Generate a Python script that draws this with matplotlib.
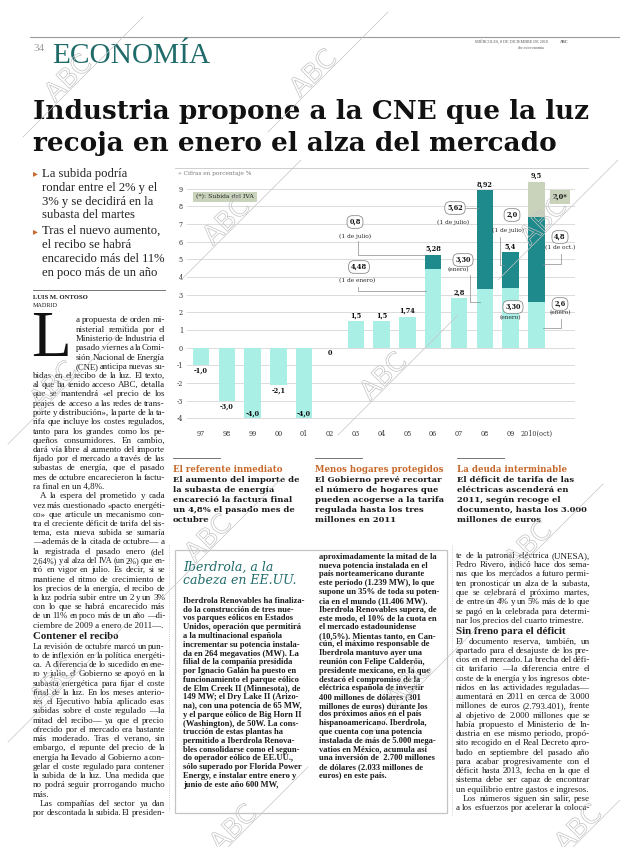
import matplotlib
matplotlib.use("Agg")
import matplotlib.pyplot as plt
import matplotlib.patheffects as pe
from matplotlib.font_manager import FontProperties
from matplotlib.patches import Rectangle

# ---- chart data -----------------------------------------------------------
years = ["97", "98", "99", "00", "01", "02", "03", "04", "05", "06", "07",
         "08", "09", "2010(oct)"]
base_rise = [-1.0, -3.0, -4.0, -2.1, -4.0, 0.0, 1.5, 1.5, 1.74, 4.48, 2.8,
             3.30, 3.4, 2.6]          # first (light) rise of each year
second_rise = [0, 0, 0, 0, 0, 0, 0, 0, 0, 0.8, 0, 5.62, 2.0, 4.8]
iva_rise = [0] * 13 + [2.0]
total_labels = ["-1,0", "-3,0", "-4,0", "-2,1", "-4,0", "0", "1,5", "1,5",
                "1,74", "5,28", "2,8", "8,92", "5,4", "9,5"]
y_ticks = list(range(-4, 10))

# ---- page text --------------------------------------------------------------
headline = ["Industria propone a la CNE que la luz",
            "recoja en enero el alza del mercado"]
bullets = [["La subida podría", "rondar entre el 2% y el",
            "3% y se decidirá en la", "subasta del martes"],
           ["Tras el nuevo aumento,", "el recibo se habrá",
            "encarecido más del 11%", "en poco más de un año"]]

col1_drop = ["a propuesta de orden mi-", "nisterial remitida por el",
             "Ministerio de Industria el", "pasado viernes a la Comi-",
             "sión Nacional de Energía", "(CNE) anticipa nuevas su-"]
col1_p1 = ["bidas en el recibo de la luz. El texto,",
           "al que ha tenido acceso ABC, detalla",
           "que se mantendrá «el precio de los",
           "peajes de acceso a las redes de trans-",
           "porte y distribución», la parte de la ta-",
           "rifa que incluye los costes regulados,",
           "tanto para los grandes como los pe-",
           "queños consumidores. En cambio,",
           "dará vía libre al aumento del importe",
           "fijado por el mercado a través de las",
           "subastas de energía, que el pasado",
           "mes de octubre encarecieron la factu-",
           "ra final en un 4,8%."]
col1_p2 = ["A la espera del prometido y cada",
           "vez más cuestionado «pacto energéti-",
           "co» que articule un mecanismo con-",
           "tra el creciente déficit de tarifa del sis-",
           "tema, esta nueva subida se sumaría",
           "—además de la citada de octubre— a",
           "la registrada el pasado enero (del",
           "2,64%) y al alza del IVA (un 2%) que en-",
           "tró en vigor en julio. Es decir, si se",
           "mantiene el ritmo de crecimiento de",
           "los precios de la energía, el recibo de",
           "la luz podría subir entre un 2 y un 3%",
           "con lo que se habrá encarecido más",
           "de un 11% en poco más de un año —di-",
           "ciembre de 2009 a enero de 2011—."]
col1_p3 = ["La revisión de octubre marcó un pun-",
           "to de inflexión en la política energéti-",
           "ca. A diferencia de lo sucedido en ene-",
           "ro y julio, el Gobierno se apoyó en la",
           "subasta energética para fijar el coste",
           "final de la luz. En los meses anterio-",
           "res el Ejecutivo había aplicado esas",
           "subidas sobre el coste regulado —la",
           "mitad del recibo— ya que el precio",
           "ofrecido por el mercado era bastante",
           "más moderado. Tras el verano, sin",
           "embargo, el repunte del precio de la",
           "energía ha llevado al Gobierno a con-",
           "gelar el coste regulado para contener",
           "la subida de la luz. Una medida que",
           "no podrá seguir prorrogando mucho",
           "más."]
col1_p4 = ["Las compañías del sector ya dan",
           "por descontada la subida. El presiden-"]

col4_p1 = ["te de la patronal eléctrica (UNESA),",
           "Pedro Rivero, indicó hace dos sema-",
           "nas que los mercados a futuro permi-",
           "ten pronosticar un alza de la subasta,",
           "que se celebrará el próximo martes,",
           "de entre un 4% y un 5% más de lo que",
           "se pagó en la celebrada para determi-",
           "nar los precios del cuarto trimestre."]
col4_p2 = ["El documento reserva, también, un",
           "apartado para el desajuste de los pre-",
           "cios en el mercado. La brecha del défi-",
           "cit tarifario —la diferencia entre el",
           "coste de la energía y los ingresos obte-",
           "nidos en las actividades reguladas—",
           "aumentará en 2011 en cerca de 3.000",
           "millones de euros (2.793.401), frente",
           "al objetivo de 2.000 millones que se",
           "había propuesto el Ministerio de In-",
           "dustria en ese mismo periodo, propó-",
           "sito recogido en el Real Decreto apro-",
           "bado en septiembre del pasado año",
           "para acabar progresivamente con el",
           "déficit hasta 2013, fecha en la que el",
           "sistema debe ser capaz de encontrar",
           "un equilibrio entre gastos e ingresos."]
col4_p3 = ["Los números siguen sin salir, pese",
           "a los esfuerzos por acelerar la coloca-"]

box_left = ["Iberdrola Renovables ha finaliza-",
            "do la construcción de tres nue-",
            "vos parques eólicos en Estados",
            "Unidos, operación que permitirá",
            "a la multinacional española",
            "incrementar su potencia instala-",
            "da en 264 megavatios (MW). La",
            "filial de la compañía presidida",
            "por Ignacio Galán ha puesto en",
            "funcionamiento el parque eólico",
            "de Elm Creek II (Minnesota), de",
            "149 MW; el Dry Lake II (Arizo-",
            "na), con una potencia de 65 MW,",
            "y el parque eólico de Big Horn II",
            "(Washington), de 50W. La cons-",
            "trucción de estas plantas ha",
            "permitido a Iberdrola Renova-",
            "bles consolidarse como el segun-",
            "do operador eólico de EE.UU.,",
            "sólo superado por Florida Power",
            "Energy, e instalar entre enero y",
            "junio de este año 600 MW,"]
box_right = ["aproximadamente la mitad de la",
             "nueva potencia instalada en el",
             "país norteamericano durante",
             "este periodo (1.239 MW), lo que",
             "supone un 35% de toda su poten-",
             "cia en el mundo (11.406 MW).",
             "Iberdrola Renovables supera, de",
             "este modo, el 10% de la cuota en",
             "el mercado estadounidense",
             "(10,5%). Mientas tanto, en Can-",
             "cún, el máximo responsable de",
             "Iberdrola mantuvo ayer una",
             "reunión con Felipe Calderón,",
             "presidente mexicano, en la que",
             "destacó el compromiso de la",
             "eléctrica española de invertir",
             "400 millones de dólares (301",
             "millones de euros) durante los",
             "dos próximos años en el país",
             "hispanoamericano. Iberdrola,",
             "que cuenta con una potencia",
             "instalada de más de 5.000 mega-",
             "vatios en México, acumula así",
             "una inversión de  2.700 millones",
             "de dólares (2.033 millones de",
             "euros) en este país."]

briefs = [("El referente inmediato",
           ["El aumento del importe de", "la subasta de energía",
            "encareció la factura final", "un 4,8% el pasado mes de",
            "octubre"]),
          ("Menos hogares protegidos",
           ["El Gobierno prevé recortar", "el número de hogares que",
            "pueden acogerse a la tarifa", "regulada hasta los tres",
            "millones en 2011"]),
          ("La deuda interminable",
           ["El déficit de tarifa de las", "eléctricas ascenderá en",
            "2011, según recoge el", "documento, hasta los 3.000",
            "millones de euros"])]

# ---- styles ---------------------------------------------------------------
W, H = 620, 847
SERIF = "Liberation Serif"
SLAB = "DejaVu Serif"
TEAL = "#1f6b6a"
ORANGE = "#c8692c"
INK = "#1c1c1c"
LIGHT = "#a9efe6"
DARK = "#1f8a8b"
IVA = "#c9d2ba"

fig = plt.figure(figsize=(6.2, 8.47), dpi=100)
page = fig.add_axes([0, 0, 1, 1])
page.set_xlim(0, W)
page.set_ylim(H, 0)
page.axis("off")
R = fig.canvas.get_renderer()


def font(family, size, weight="normal", style="normal"):
    return FontProperties(family=family, size=size, weight=weight, style=style)


def text_w(s, prop):
    return R.get_text_width_height_descent(s, prop, ismath=False)[0]


def fitted(s, prop, target):
    p = prop.copy()
    p.set_size(prop.get_size() * target / text_w(s, prop))
    return p


def put_line(x, y, w, s, prop, justify=True, color=INK):
    words = s.split()
    if not justify or len(words) < 2:
        p = prop if text_w(s, prop) <= w else fitted(s, prop, w)
        page.text(x, y, s, fontproperties=p, color=color, va="baseline")
        return
    p = prop
    widths = [text_w(t, p) for t in words]
    gap = (w - sum(widths)) / (len(words) - 1)
    if gap < 1.4:
        p = prop.copy()
        p.set_size(prop.get_size() * (w - 1.4 * (len(words) - 1)) / sum(widths))
        widths = [text_w(t, p) for t in words]
        gap = (w - sum(widths)) / (len(words) - 1)
    cx = x
    for t, tw in zip(words, widths):
        page.text(cx, y, t, fontproperties=p, color=color, va="baseline")
        cx += tw + gap


def column(blocks, x, y, w, step, prop, head):
    for kind, lines, indent, ends in blocks:
        if kind == "h":
            y += step * 0.25
            page.text(x, y, lines, fontproperties=head, color=INK, va="baseline")
            y += step * 1.0
            continue
        for i, s in enumerate(lines):
            ind = indent if i == 0 else 0
            last = ends and i == len(lines) - 1
            put_line(x + ind, y, w - ind, s, prop, justify=not last)
            y += step
    return y


# ---- masthead & headline ------------------------------------------------------
page.plot([30, 620], [37, 37], color="#9a9a9a", lw=0.8)
page.text(33, 51, "34", fontproperties=font(SERIF, 8), color="#9a9a9a", va="baseline")
page.text(52, 63, "ECONOMÍA", fontproperties=fitted("ECONOMÍA", font(SERIF, 20), 158),
          color=TEAL, va="baseline")
page.text(548, 43, "MIÉRCOLES, 8 DE DICIEMBRE DE 2010", fontproperties=font(SERIF, 3),
          color="#555", va="baseline", ha="right")
page.text(560, 43, "ABC", fontproperties=font(SERIF, 3, "bold"), color="#555", va="baseline")
page.text(545, 49, "abc.es/economia", fontproperties=font(SERIF, 3), color="#555",
          va="baseline", ha="right")

hprop = fitted(headline[0], font(SLAB, 18, "bold"), 557)
page.text(33, 119, headline[0], fontproperties=hprop, color="#111", va="baseline")
page.text(33, 151, headline[1], fontproperties=hprop, color="#111", va="baseline")

# ---- column 1 ---------------------------------------------------------------
bprop = font(SERIF, 9.1)
by = 177
for group in bullets:
    page.text(33, by - 0.5, "▸", fontproperties=font("DejaVu Sans", 7), color=ORANGE,
              va="baseline")
    for s in group:
        page.text(42, by, s, fontproperties=bprop, color="#222", va="baseline")
        by += 13.8
    by += 2.0

page.plot([33, 165], [290, 290], color="#777", lw=0.7)
page.text(33, 299, "LUIS M. ONTOSO", fontproperties=font(SERIF, 4.8, "bold"), color=INK,
          va="baseline")
page.text(33, 307, "MADRID", fontproperties=font(SERIF, 4.4), color=INK, va="baseline")
# drop cap, kept clear of the first full-width line
page.text(31, 356, "L", fontproperties=font(SERIF, 47), color="#111", va="baseline")

body = font(SERIF, 6.5)
bhead = font(SERIF, 7.8, "bold")
STEP = 9.25
y = 322.5
for s in col1_drop:
    put_line(76, y, 89, s, body)
    y += STEP
column([("p", col1_p1, 0, True), ("p", col1_p2, 7, True), ("h", "Contener el recibo", 0, 0),
        ("p", col1_p3, 0, True), ("p", col1_p4, 7, False)], 33, y, 132, STEP, body, bhead)

column([("p", col4_p1, 0, True), ("h", "Sin freno para el déficit", 0, 0),
        ("p", col4_p2, 0, True), ("p", col4_p3, 7, False)], 456, 558, 134, STEP, body, bhead)

# ---- briefs under the chart -------------------------------------------------------
for (title, lines), bx in zip(briefs, [173, 315, 457]):
    page.plot([bx, bx + 47], [458, 458], color="#777", lw=0.7)
    page.text(bx, 472, title, fontproperties=font(SLAB, 6.2, "bold"), color=ORANGE,
              va="baseline")
    for i, s in enumerate(lines):
        page.text(bx, 481.5 + i * 10.1, s, fontproperties=font(SLAB, 6.0, "bold"),
                  color=INK, va="baseline")

# ---- Iberdrola box ---------------------------------------------------------------
page.add_patch(Rectangle((175, 550), 272, 263, facecolor="white", edgecolor="#c4c4c4", lw=0.9))
page.plot([169, 169], [545, 812], color="#bbb", lw=0.6, ls=":")
page.plot([452, 452], [545, 815], color="#bbb", lw=0.6, ls=":")
tprop = font(SLAB, 9.0, style="italic")
page.text(183, 571, "Iberdrola, a la", fontproperties=tprop, color=TEAL, va="baseline")
page.text(183, 584, "cabeza en EE.UU.", fontproperties=tprop, color=TEAL, va="baseline")
boxprop = font(SERIF, 6.1, "bold")
for i, s in enumerate(box_left):
    put_line(183, 603 + i * 8.75, 124, s, boxprop, justify=False)
for i, s in enumerate(box_right):
    put_line(319, 559 + i * 8.75, 124, s, boxprop, justify=False)

# ---- chart -------------------------------------------------------------------
X0, XU = 201.0, 25.8     # px of first bar centre, px per category
Y0, YU = 347.7, 17.65    # px of zero line, px per unit
GL, GR = 187, 575
ylo, yhi = -4.45, 9.75


def dx(px):
    return (px - X0) / XU


def dy(py):
    return (Y0 - py) / YU


top_px, bot_px = Y0 - yhi * YU, Y0 - ylo * YU
ax = fig.add_axes([GL / W, 1 - bot_px / H, (GR - GL) / W, (bot_px - top_px) / H])
ax.patch.set_alpha(0)
ax.set_xlim(dx(GL), dx(GR))
ax.set_ylim(ylo, yhi)
for sp in ax.spines.values():
    sp.set_visible(False)
ax.set_yticks(y_ticks)
ax.set_yticklabels([str(v) for v in y_ticks])
ax.grid(axis="y", color="#d6d6d6", lw=0.6)
ax.set_axisbelow(True)
xs = list(range(len(years)))
ax.set_xticks(xs)
ax.set_xticklabels(years)
ax.tick_params(length=0, labelsize=4.7, colors="#333")
ax.tick_params(axis="y", pad=3)
ax.tick_params(axis="x", pad=2.5)
for lab in ax.get_xticklabels() + ax.get_yticklabels():
    lab.set_family(SLAB)

bw = 0.64
ax.bar(xs, base_rise, bw, color=LIGHT, zorder=2)
ax.bar(xs, second_rise, bw, bottom=base_rise, color=DARK, zorder=2)
tops2 = [a + b for a, b in zip(base_rise, second_rise)]
ax.bar(xs, iva_rise, bw, bottom=tops2, color=IVA, zorder=2)

num = dict(family=SLAB, fontsize=4.7, fontweight="bold", color="#111")
for i, lab in enumerate(total_labels):
    top = tops2[i] + iva_rise[i]
    if top > 0:
        ax.annotate(lab, (i, top), xytext=(0, 1.5), textcoords="offset points",
                    ha="center", va="bottom", zorder=4, **num)
    else:
        ax.text(i, max(top, -3.4) - 0.32, lab, ha="center", va="center", zorder=4, **num)

line_kw = dict(color="#8a8a8a", lw=0.5, zorder=3)
box_kw = dict(boxstyle="round,pad=0.35,rounding_size=0.8", fc="white", ec="#777", lw=0.5)
note_kw = dict(family=SLAB, fontsize=4.2, color="#222", ha="center", va="center", zorder=5)


def callout(px, py, value, note, note_px, path):
    if path:
        ax.plot([dx(p[0]) for p in path], [dy(p[1]) for p in path], **line_kw)
    ax.text(dx(px), dy(py), value, ha="center", va="center", bbox=box_kw, zorder=5, **num)
    ax.text(dx(note_px[0]), dy(note_px[1]), note, **note_kw)


callout(355, 222, "0,8", "(1 de julio)", (355, 236), [(358, 241), (358, 255), (425, 255)])
callout(359, 267, "4,48", "(1 de enero)", (357, 281), [(358, 287), (358, 291), (426, 291)])
callout(455, 208, "5,62", "(1 de julio)", (453, 222), [(466, 208), (478, 208)])
callout(463, 260, "3,30", "(enero)", (458, 270), [(470, 275), (470, 302), (480, 302)])
callout(512, 215, "2,0", "(1 de julio)", (508, 230), [(500, 237), (500, 265), (504, 265)])
callout(513, 307, "3,30", "(enero)", (510, 318), None)
callout(560, 237, "4,8", "(1 de oct.)", (560, 248), [(561, 254), (561, 264), (543, 264)])
callout(560, 304, "2,6", "(enero)", (560, 313), [(561, 319), (561, 328), (543, 328)])
ax.text(dx(560), dy(197), "2,0*", ha="center", va="center", zorder=5,
        bbox=dict(boxstyle="square,pad=0.4", fc=IVA, ec="none"), **num)
ax.text(dx(225), dy(197), "(*): Subida del IVA", ha="center", va="center", zorder=5,
        family=SLAB, fontsize=4.4, color="#222",
        bbox=dict(boxstyle="square,pad=0.45", fc=IVA, ec="none"))

page.plot([175, 588], [168, 168], color="#c8c8c8", lw=0.6)
page.text(178, 174.5, "» Cifras en porcentaje %", fontproperties=font(SLAB, 4.2),
          color="#777", va="baseline")

# ---- watermark -----------------------------------------------------------------
over = fig.add_axes([0, 0, 1, 1])
over.set_xlim(0, W)
over.set_ylim(H, 0)
over.axis("off")
marks = [(75, 85), (320, 80), (233, 228), (550, 228), (60, 392), (390, 383),
         (215, 545), (535, 552), (60, 690), (415, 690), (240, 835), (585, 835)]
for cx, cy in marks:
    over.plot([cx - 52, cx + 68], [cy + 52, cy - 68], color="#c6c6c6", lw=0.5)
    over.text(cx - 6, cy - 6, "ABC", rotation=45, ha="center", va="center",
              fontsize=19, family="DejaVu Sans", color=(1, 1, 1, 0),
              path_effects=[pe.Stroke(linewidth=0.5, foreground="#c2c2c2")])

fig.savefig("out.png", dpi=100)
